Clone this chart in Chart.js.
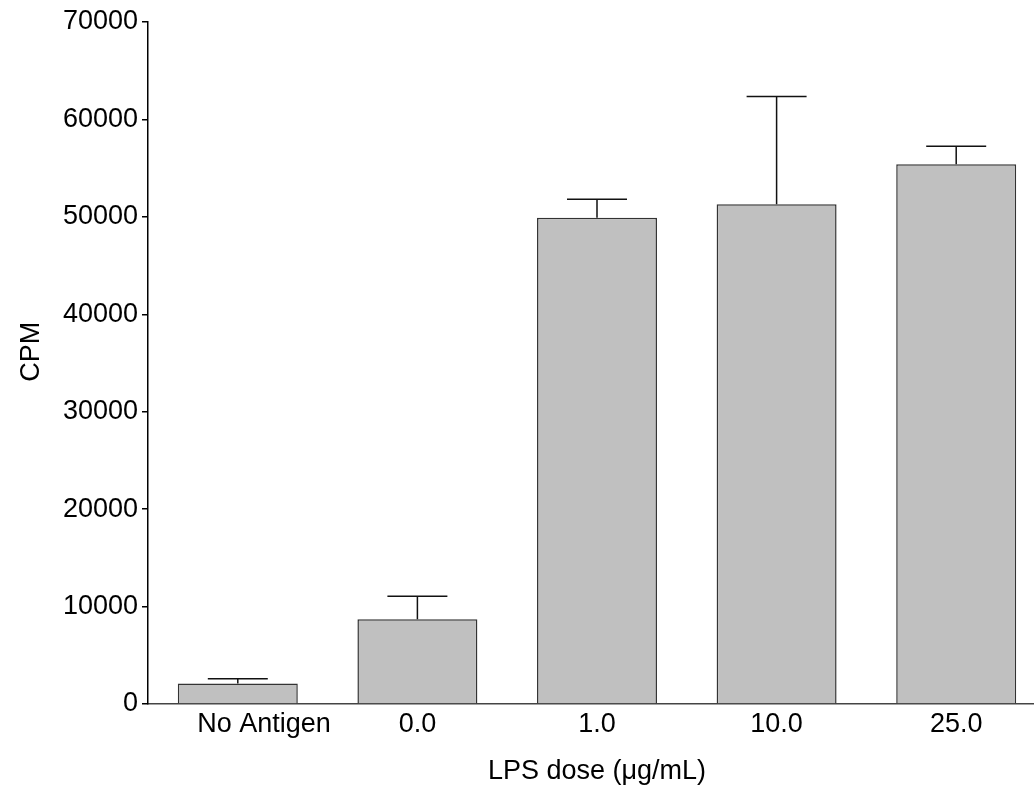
<!DOCTYPE html>
<html>
<head>
<meta charset="utf-8">
<script src="https://cdn.jsdelivr.net/npm/chart.js@4/dist/chart.umd.min.js"></script>
<style>
  html, body { margin: 0; padding: 0; background: #fff; overflow: hidden; }
  canvas { display: block; }
</style>
</head>
<body>
<canvas id="cpm-bar" width="1046" height="791"></canvas>
<script>
// 数据
const doses = ['No Antigen', '0.0', '1.0', '10.0', '25.0'];
const cpmMeans = [2100, 8700, 49900, 51300, 55400];
const cpmErrors = [500, 2350, 1900, 11050, 1850];
const yTicks = [0, 10000, 20000, 30000, 40000, 50000, 60000, 70000];

const FONT = 'Liberation Sans, Arial, sans-serif';
const NB = '\u00a0';

// 误差线（只画上半部分）
const errorBars = {
  id: 'errorBars',
  afterDatasetsDraw(chart) {
    const { ctx, scales: { y } } = chart;
    const meta = chart.getDatasetMeta(0);
    ctx.save();
    ctx.strokeStyle = '#111';
    ctx.lineWidth = 1.5;
    meta.data.forEach((bar, i) => {
      const cx = bar.x;
      const yTop = y.getPixelForValue(cpmMeans[i]);
      const yErr = y.getPixelForValue(cpmMeans[i] + cpmErrors[i]);
      const half = bar.width / 4;
      ctx.beginPath();
      ctx.moveTo(cx, yTop);
      ctx.lineTo(cx, yErr);
      ctx.moveTo(cx - half, yErr);
      ctx.lineTo(cx + half, yErr);
      ctx.stroke();
    });
    ctx.restore();
  }
};

new Chart(document.getElementById('cpm-bar'), {
  type: 'bar',
  data: {
    labels: doses,
    datasets: [{
      data: cpmMeans,
      backgroundColor: '#c0c0c0',
      borderColor: '#333',
      borderWidth: 1.5,
      categoryPercentage: 1,
      barPercentage: 0.668
    }]
  },
  options: {
    responsive: false,
    animation: false,
    layout: { padding: { top: 22, right: 0, left: 0, bottom: 0 } },
    plugins: { legend: { display: false }, tooltip: { enabled: false } },
    scales: {
      x: {
        grid: { display: false },
        border: { display: true, color: '#444', width: 1.5 },
        ticks: {
          color: '#000',
          font: { family: FONT, size: 27 },
          padding: -4,
          maxRotation: 0,
          autoSkip: false,
          // "No Antigen" 在原图中略向右偏
          callback: (v, i) => i === 0 ? NB.repeat(7) + doses[i] : doses[i]
        },
        title: {
          display: true,
          text: 'LPS dose (\u03bcg/mL)',
          color: '#000',
          font: { family: FONT, size: 27 },
          padding: { top: 0, bottom: 3 }
        },
        afterFit: s => { s.height = 87; }
      },
      y: {
        min: 0,
        max: 70000,
        afterBuildTicks: s => { s.ticks = yTicks.map(v => ({ value: v })); },
        grid: { drawOnChartArea: false, drawTicks: true, tickLength: 6, color: '#000', lineWidth: 1.5 },
        border: { display: true, color: '#000', width: 1.5 },
        ticks: {
          color: '#000',
          font: { family: FONT, size: 27 },
          padding: 4,
          callback: v => String(v)
        },
        title: {
          display: true,
          text: NB.repeat(3) + 'CPM',
          color: '#000',
          font: { family: FONT, size: 27 },
          padding: { top: 15, bottom: 0 }
        },
        afterFit: s => { s.width = 148; }
      }
    }
  },
  plugins: [errorBars]
});
</script>
</body>
</html>
